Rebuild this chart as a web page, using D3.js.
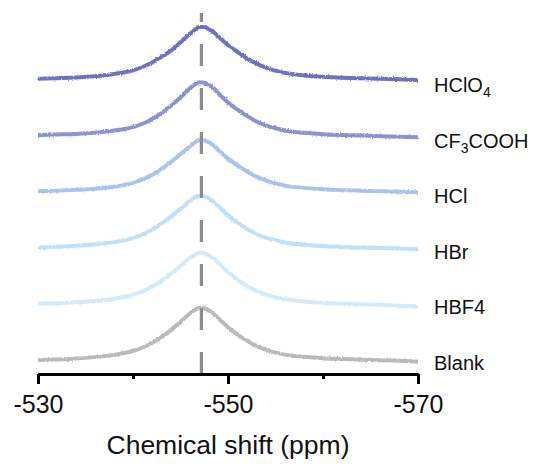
<!DOCTYPE html>
<html>
<head>
<meta charset="utf-8">
<script src="https://cdn.jsdelivr.net/npm/d3@7"></script>
<style>
    body { margin: 0; background: #fff; }
    svg { display: block; font-family: "Liberation Sans", Arial, sans-serif; }
</style>
</head>
<body>
<svg id="chart"></svg>
<script>
// chemical shift sample points (ppm), shared by all spectra
const shifts = [-530, -532, -534, -536, -538, -540, -541, -542, -543, -544, -545, -546, -546.5, -547,
    -547.5, -548, -548.5, -549, -550, -551, -552, -553, -554, -555, -556, -558, -560, -562, -564, -566, -568, -570];

// intensities (baseline ~0, peak ~0.95), bottom to top
const blank = [0.02, 0.03, 0.045, 0.07, 0.11, 0.18, 0.24, 0.32, 0.43, 0.55, 0.70, 0.85, 0.91, 0.95,
    0.94, 0.90, 0.84, 0.76, 0.60, 0.47, 0.36, 0.27, 0.20, 0.15, 0.115, 0.075, 0.05, 0.035, 0.025, 0.015, 0.005, -0.01];
const hbf4 = [0.02, 0.03, 0.045, 0.07, 0.11, 0.18, 0.24, 0.32, 0.43, 0.55, 0.69, 0.83, 0.89, 0.93,
    0.92, 0.88, 0.82, 0.74, 0.58, 0.45, 0.34, 0.25, 0.18, 0.13, 0.10, 0.06, 0.035, 0.02, 0.01, 0.0, -0.015, -0.03];
const hbr = [0.02, 0.035, 0.05, 0.075, 0.115, 0.185, 0.25, 0.34, 0.45, 0.57, 0.71, 0.85, 0.91, 0.94,
    0.93, 0.89, 0.83, 0.75, 0.59, 0.46, 0.35, 0.26, 0.19, 0.15, 0.11, 0.07, 0.045, 0.03, 0.02, 0.01, 0.0, -0.01];
const hcl = [0.02, 0.03, 0.045, 0.065, 0.10, 0.17, 0.23, 0.31, 0.42, 0.54, 0.68, 0.82, 0.89, 0.93,
    0.92, 0.89, 0.83, 0.75, 0.60, 0.48, 0.37, 0.28, 0.21, 0.16, 0.12, 0.08, 0.055, 0.04, 0.03, 0.02, 0.01, 0.0];
const cf3cooh = [0.02, 0.03, 0.04, 0.06, 0.10, 0.16, 0.22, 0.30, 0.41, 0.54, 0.69, 0.85, 0.92, 0.96,
    0.95, 0.91, 0.85, 0.76, 0.60, 0.47, 0.36, 0.26, 0.19, 0.14, 0.10, 0.06, 0.035, 0.02, 0.01, 0.0, -0.01, -0.02];
const hclo4 = [0.02, 0.03, 0.045, 0.065, 0.105, 0.17, 0.23, 0.31, 0.41, 0.52, 0.67, 0.82, 0.89, 0.94,
    0.94, 0.90, 0.85, 0.77, 0.62, 0.50, 0.38, 0.29, 0.22, 0.165, 0.125, 0.08, 0.055, 0.04, 0.03, 0.02, 0.01, 0.0];

const seriesNames = [["Blank"], ["HBF4"], ["HBr"], ["HCl"], ["CF", "3", "COOH"], ["HClO", "4"]];
const seriesValues = [blank, hbf4, hbr, hcl, cf3cooh, hclo4];
const seriesColors = ["#bababa", "#d2eafb", "#bfe0fa", "#a8c4ec", "#8b93d3", "#7171c2"];

const xTicks = [-530, -550, -570];
const xMinorTicks = [-540, -560];
const refShift = -547.2;   // dashed reference line

const width = 536;
const height = 466;

const svg = d3.select("#chart")
    .attr("width", width)
    .attr("height", height);

const x = d3.scaleLinear().domain([-530, -570]).range([38, 418]);
const y = d3.scaleLinear().domain([-0.23, 6.19]).range([374, 13]);

// Spectra, stacked by one unit each
const line = d3.line()
    .x(d => x(d[0]))
    .y(d => y(d[1]))
    .curve(d3.curveMonotoneX);

// slight roughness like a raw spectrum
const defs = svg.append("defs");
const filter = defs.append("filter").attr("id", "rough")
    .attr("x", "-5%").attr("y", "-20%").attr("width", "110%").attr("height", "140%");
filter.append("feTurbulence")
    .attr("type", "fractalNoise")
    .attr("baseFrequency", "0.75")
    .attr("numOctaves", 1)
    .attr("seed", 3)
    .attr("result", "noise");
filter.append("feDisplacementMap")
    .attr("in", "SourceGraphic")
    .attr("in2", "noise")
    .attr("scale", 3)
    .attr("xChannelSelector", "R")
    .attr("yChannelSelector", "G");

svg.append("g")
    .selectAll("path")
    .data(seriesValues)
    .join("path")
    .attr("fill", "none")
    .attr("stroke", (d, i) => seriesColors[i])
    .attr("stroke-width", 4)
    .attr("filter", "url(#rough)")
    .attr("d", (vals, i) => line(shifts.map((s, j) => [s, vals[j] + i])));

// Dashed reference line
svg.append("line")
    .attr("x1", x(refShift))
    .attr("x2", x(refShift))
    .attr("y1", y.range()[0])
    .attr("y2", y.range()[1])
    .attr("stroke", "#8c8c8c")
    .attr("stroke-width", 3.2)
    .attr("stroke-dasharray", "22,22");

// Labels
const labels = svg.append("g")
    .attr("fill", "#111");

seriesNames.forEach((parts, i) => {
    const t = labels.append("text")
        .attr("x", 434)
        .attr("y", 370 - i * 55.6);
    parts.forEach((p, k) => {
        const sub = k % 2 === 1;
        t.append("tspan")
            .attr("font-size", sub ? 14 : 20)
            .attr("dy", sub ? 5 : (k > 0 ? -5 : 0))
            .text(p);
    });
});

// X axis
const axis = svg.append("g")
    .attr("transform", `translate(0,${y.range()[0]})`);

const major = axis.append("g").call(d3.axisBottom(x)
    .tickValues(xTicks)
    .tickSize(10)
    .tickSizeOuter(0)
    .tickPadding(11)
    .tickFormat(d => String(d)));

axis.append("g").call(d3.axisBottom(x)
    .tickValues(xMinorTicks)
    .tickSize(5)
    .tickSizeOuter(0)
    .tickFormat(""));

axis.selectAll("path.domain").attr("stroke", "#000").attr("stroke-width", 3);
axis.selectAll(".tick line").attr("stroke", "#000").attr("stroke-width", 3);
major.selectAll(".tick text")
    .attr("font-size", 25)
    .attr("font-family", "'Liberation Sans', Arial, sans-serif")
    .attr("fill", "#111");

svg.append("text")
    .attr("x", (x.range()[0] + x.range()[1]) / 2)
    .attr("y", 454)
    .attr("text-anchor", "middle")
    .attr("font-size", 26.5)
    .attr("fill", "#111")
    .text("Chemical shift (ppm)");
</script>
</body>
</html>
